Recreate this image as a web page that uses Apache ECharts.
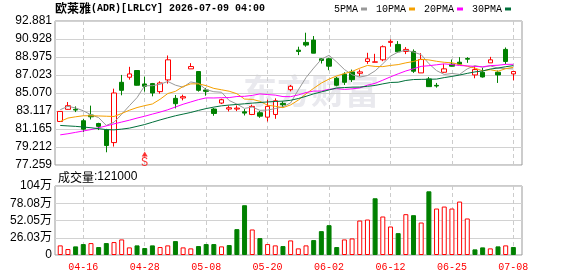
<!DOCTYPE html>
<html>
<head>
<meta charset="utf-8">
<script src="https://cdn.jsdelivr.net/npm/echarts@6/dist/echarts.min.js"></script>
<style>
  html, body { margin: 0; padding: 0; background: #fff; }
  #main { width: 578px; height: 276px; }
</style>
</head>
<body>
<div id="main"></div>
<script>
// 日期
var dates = ['04-13','04-14','04-15','04-16','04-17','04-20','04-21','04-22','04-23','04-24',
  '04-27','04-28','04-29','04-30','05-01','05-04','05-05','05-06','05-07','05-08',
  '05-11','05-12','05-13','05-14','05-15','05-18','05-19','05-20','05-21','05-22',
  '05-26','05-27','05-28','05-29','06-01','06-02','06-03','06-04','06-05','06-08',
  '06-09','06-10','06-11','06-12','06-15','06-16','06-17','06-18','06-22','06-23',
  '06-24','06-25','06-26','06-29','06-30','07-01','07-02','07-06','07-07','07-08'];

// K线 开 收 低 高
var opens = [81.98,83.30,83.30,82.06,82.68,81.76,81.07,79.69,86.23,86.78,
  87.51,86.05,86.09,85.22,86.49,84.49,84.53,87.69,87.40,85.40,
  83.33,83.98,83.33,83.33,83.03,82.74,82.93,82.45,82.74,83.94,
  85.43,89.72,90.56,90.81,88.78,88.78,86.67,87.11,87.36,87.21,
  88.49,88.41,88.67,90.56,90.34,89.58,89.58,87.25,86.60,85.90,
  87.32,88.20,88.41,88.81,87.03,87.32,88.34,87.32,89.80,87.14];
var closes = [83.07,83.69,83.22,81.15,82.49,81.45,79.37,85.07,85.36,87.14,
  85.91,85.80,85.07,86.16,88.67,83.91,84.67,87.94,85.36,85.25,
  82.85,84.34,83.47,83.43,82.89,83.62,82.56,83.62,84.23,83.80,
  85.80,89.58,90.27,89.39,88.60,87.98,85.91,86.23,86.52,87.36,
  88.78,88.45,90.09,90.67,89.54,89.80,87.43,88.70,85.76,85.83,
  87.69,87.98,88.20,88.74,87.61,86.81,88.67,87.03,88.49,87.40];
var lows = [81.98,83.26,83.00,80.82,82.20,81.05,78.64,79.26,84.82,86.52,
  85.88,85.22,84.71,85.00,86.09,83.40,84.27,87.69,85.22,84.78,
  82.60,83.87,83.07,83.11,82.63,82.67,82.38,81.98,82.27,83.54,
  85.25,89.18,90.09,89.39,88.27,87.54,85.80,85.94,86.27,86.89,
  88.23,88.41,88.52,90.09,89.43,89.29,87.25,87.25,85.76,85.65,
  87.25,87.94,88.12,88.34,86.67,86.74,88.34,86.16,88.20,86.45];
var highs = [83.07,84.09,83.62,82.27,83.70,81.84,81.18,85.54,87.03,87.91,
  87.55,86.85,86.16,86.34,89.14,84.85,84.89,88.31,87.45,85.62,
  83.44,84.45,83.69,83.72,83.33,83.80,83.11,84.34,84.49,84.16,
  85.94,90.09,91.61,91.25,88.85,88.89,86.81,87.32,87.61,87.61,
  89.43,89.32,90.23,90.89,90.70,90.05,89.80,89.39,86.81,86.16,
  88.23,88.70,88.96,88.96,88.01,87.80,88.99,87.51,90.01,87.40];

// 均线
var ma5 = [83.26,83.62,83.45,83.14,82.71,82.40,81.55,81.90,82.76,83.69,
  84.57,85.86,85.86,86.02,86.32,85.92,85.70,86.27,86.11,85.43,
  85.21,85.15,84.25,83.87,83.40,83.55,83.19,83.22,83.38,83.57,
  84.00,85.41,86.74,87.77,88.73,89.16,88.43,87.62,87.05,86.80,
  86.96,87.47,88.24,89.07,89.51,89.71,89.51,89.23,88.25,87.50,
  87.08,87.19,87.09,87.69,88.04,87.87,88.01,87.77,87.72,87.68];
var ma10 = [81.98,82.35,82.49,82.60,82.60,82.58,82.55,82.52,82.85,83.20,
  83.49,83.70,83.88,84.39,85.01,85.25,85.78,86.06,86.06,85.87,
  85.57,85.42,85.26,84.99,84.41,84.38,84.17,83.74,83.63,83.48,
  83.78,84.30,84.98,85.58,86.15,86.58,86.92,87.18,87.41,87.76,
  88.06,87.95,87.93,88.06,88.15,88.34,88.49,88.73,88.66,88.51,
  88.40,88.35,88.16,87.97,87.77,87.48,87.60,87.43,87.71,87.86];
var ma20 = [80.53,80.65,80.80,80.95,81.10,81.30,81.50,81.72,81.92,82.12,
  82.35,82.55,82.78,83.00,83.25,83.55,83.85,84.10,84.35,84.54,
  84.53,84.56,84.57,84.69,84.71,84.81,84.97,84.90,84.84,84.68,
  84.67,84.86,85.12,85.28,85.28,85.48,85.54,85.46,85.52,85.62,
  85.92,86.12,86.46,86.82,87.15,87.46,87.70,87.96,88.03,88.13,
  88.23,88.15,88.05,88.01,87.96,87.91,88.04,88.08,88.18,88.18];
var ma30 = [81.55,81.50,81.45,81.38,81.30,81.20,81.10,81.07,81.15,81.26,
  81.45,81.65,81.90,82.15,82.38,82.60,82.78,82.96,83.18,83.38,
  83.54,83.68,83.76,83.83,83.90,83.97,84.04,84.10,84.15,84.19,
  84.28,84.47,84.71,84.98,85.19,85.40,85.62,85.66,85.70,85.71,
  85.80,85.89,86.06,86.21,86.24,86.43,86.53,86.55,86.56,86.58,
  86.74,86.87,87.02,87.20,87.36,87.46,87.67,87.78,87.92,88.04];

// 成交量
var volumes = [145000,90000,130000,165000,180000,120000,180000,195000,235000,115000,
  145000,105000,145000,120000,145000,210000,115000,100000,135000,165000,
  165000,130000,150000,390000,751000,385000,255000,165000,145000,135000,
  220000,100000,145000,225000,360000,450000,120000,235000,250000,520000,
  535000,856000,581000,430000,330000,616000,601000,490000,961000,701000,
  731000,701000,806000,551000,85000,115000,100000,130000,145000,121000];

// 信号
var signals = [[11, 78.45, 'S']];

// 刻度
var priceTicks = ['77.259','79.212','81.165','83.117','85.070','87.023','88.975','90.928','92.881'];
var volLabels = ['0','26.03万','52.05万','78.08万','104万'];
var volMax = 1041000;

var RED = '#ff0000', GREEN = '#008000';
var mono = 'Liberation Mono';

var kData = [];
var volData = [];
for (var i = 0; i < dates.length; i++) {
  kData.push([opens[i], closes[i], lows[i], highs[i]]);
  // 量柱颜色按较前一日收盘涨跌
  var up = i === 0 ? closes[i] >= opens[i] : closes[i] >= closes[i - 1];
  volData.push({
    value: volumes[i],
    itemStyle: up ? { color: '#fff', borderColor: RED, borderWidth: 1 } : { color: GREEN, borderColor: GREEN, borderWidth: 1 }
  });
}

function tickEvery(idx) { return idx % 8 === 3; }

var myChart = echarts.init(document.getElementById('main'), null, { renderer: 'canvas' });
var option = {
  animation: false,
  backgroundColor: '#fff',
  title: {
    left: 55, top: 2, padding: 0,
    text: '{a|欧莱雅}{b|(ADR)[LRLCY] 2026-07-09 04:00}',
    textStyle: {
      rich: {
        a: { fontFamily: 'Noto Sans CJK SC', fontSize: 12, color: '#000' },
        b: { fontFamily: mono, fontSize: 10, color: '#000' }
      }
    }
  },
  legend: {
    right: 67, top: 4, padding: 0,
    align: 'right', icon: 'rect', itemWidth: 6, itemHeight: 3, itemGap: 9,
    textStyle: { fontFamily: mono, fontSize: 10, color: '#000', padding: [0, -2, 0, 0] },
    data: ['5PMA', '10PMA', '20PMA', '30PMA']
  },
  graphic: [
    {
      type: 'text', left: 243, top: 74, z: 0, silent: true,
      style: { text: '东方财富', fill: '#e9e9ee', font: 'bold 34px "Noto Sans CJK SC"' }
    },
    {
      type: 'text', left: 58, top: 171,
      style: {
        text: '{a|成交量}{b|:' + volumes[volumes.length - 1] + '}',
        rich: {
          a: { fontFamily: 'Noto Sans CJK SC', fontSize: 12, fill: '#000' },
          b: { fontFamily: 'Liberation Sans', fontSize: 12, fill: '#000' }
        }
      }
    }
  ],
  grid: [
    { left: 55, top: 21, width: 467, height: 144, show: true, borderColor: '#999', borderWidth: 1 },
    { left: 56.4, top: 21, width: 460.8, height: 144 },
    { left: 55, top: 186, width: 467, height: 69, show: true, borderColor: '#999', borderWidth: 1 },
    { left: 56.4, top: 186, width: 460.8, height: 69 }
  ],
  xAxis: [
    { gridIndex: 0, type: 'value', min: 0, max: 1, show: false },
    {
      gridIndex: 1, type: 'category', data: dates,
      axisLine: { show: false }, axisTick: { show: false }, axisLabel: { show: false },
      splitLine: { show: true, interval: tickEvery, alignWithLabel: true, lineStyle: { color: '#ccc', type: [4, 3] } }
    },
    { gridIndex: 2, type: 'value', min: 0, max: 1, show: false },
    {
      gridIndex: 3, type: 'category', data: dates,
      axisLine: { show: false }, axisTick: { show: false },
      axisLabel: { interval: tickEvery, color: RED, fontFamily: mono, fontSize: 10, margin: 7 },
      splitLine: { show: true, interval: tickEvery, alignWithLabel: true, lineStyle: { color: '#ccc', type: [4, 3] } }
    }
  ],
  yAxis: [
    {
      gridIndex: 0, type: 'value', min: 0, max: 8, interval: 1,
      axisLine: { show: false }, axisTick: { show: false },
      axisLabel: {
        margin: 3, color: '#000', fontFamily: 'Liberation Sans', fontSize: 12,
        formatter: function (v) { return priceTicks[Math.round(v)]; }
      },
      splitLine: { lineStyle: { color: '#d2d2d2' } }
    },
    { gridIndex: 1, type: 'value', min: +priceTicks[0], max: +priceTicks[priceTicks.length - 1], show: false, splitLine: { show: false } },
    {
      gridIndex: 2, type: 'value', min: 0, max: 4, interval: 1,
      axisLine: { show: false }, axisTick: { show: false },
      axisLabel: {
        margin: 3, color: '#000', fontFamily: 'Liberation Sans, Noto Sans CJK SC', fontSize: 12,
        formatter: function (v) { return volLabels[Math.round(v)]; }
      },
      splitLine: { lineStyle: { color: '#d2d2d2' } }
    },
    { gridIndex: 3, type: 'value', min: 0, max: volMax, show: false, splitLine: { show: false } }
  ],
  series: [
    {
      name: 'K', type: 'candlestick', xAxisIndex: 1, yAxisIndex: 1, data: kData, barWidth: 5,
      itemStyle: { color: '#fff', color0: GREEN, borderColor: RED, borderColor0: GREEN, borderWidth: 1 }
    },
    { name: '5PMA', type: 'line', xAxisIndex: 1, yAxisIndex: 1, data: ma5, showSymbol: false, color: '#999999', lineStyle: { width: 1 } },
    { name: '10PMA', type: 'line', xAxisIndex: 1, yAxisIndex: 1, data: ma10, showSymbol: false, color: '#f5a000', lineStyle: { width: 1 } },
    { name: '20PMA', type: 'line', xAxisIndex: 1, yAxisIndex: 1, data: ma20, showSymbol: false, color: '#ff00ff', lineStyle: { width: 1 } },
    { name: '30PMA', type: 'line', xAxisIndex: 1, yAxisIndex: 1, data: ma30, showSymbol: false, color: '#006f3a', lineStyle: { width: 1 } },
    {
      name: 'signal', type: 'scatter', xAxisIndex: 1, yAxisIndex: 1,
      data: signals.map(function (s) { return [s[0], s[1]]; }),
      symbol: 'triangle', symbolSize: [6, 5], itemStyle: { color: RED },
      label: {
        show: true, position: 'bottom', distance: 0, color: RED, fontFamily: mono, fontSize: 12,
        formatter: function (p) { return signals[p.dataIndex][2]; }
      }
    },
    { name: 'VOL', type: 'bar', xAxisIndex: 3, yAxisIndex: 3, data: volData, barWidth: 5 }
  ]
};
myChart.setOption(option);
</script>
</body>
</html>
